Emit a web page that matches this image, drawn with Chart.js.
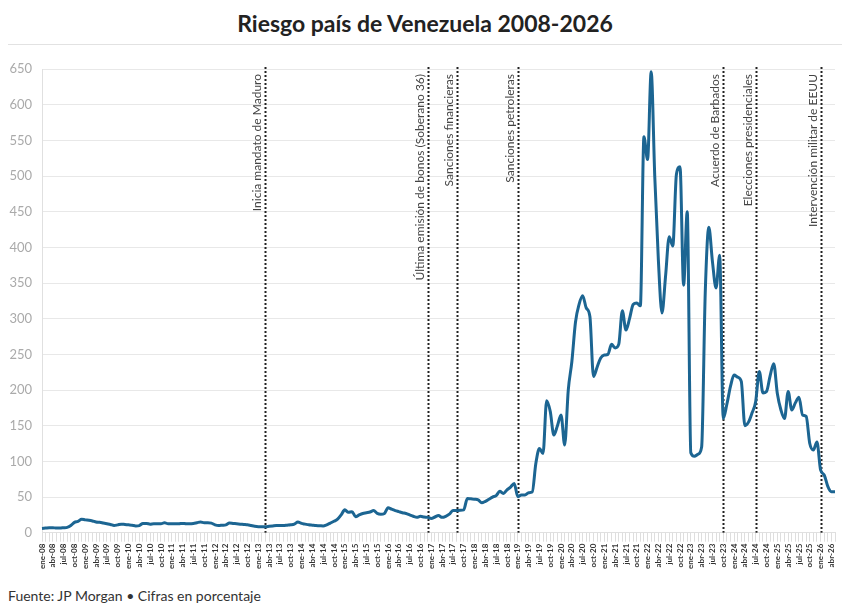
<!DOCTYPE html>
<html><head><meta charset="utf-8">
<script src="https://cdn.jsdelivr.net/npm/chart.js@4.4.1/dist/chart.umd.min.js"></script>
<style>
html,body{margin:0;padding:0;background:#fff;}
#wrap{position:relative;width:850px;height:609px;font-family:Lato, sans-serif;overflow:hidden;}
#title{position:absolute;top:9px;left:0;width:850px;text-align:center;font-weight:700;font-size:23px;color:#222;}
#rule{position:absolute;top:44px;left:8px;width:834px;height:1px;background:#e2e2e2;}
#foot{position:absolute;top:587px;left:8px;font-size:14px;color:#333;}
canvas{position:absolute;left:0;top:50px;}
</style></head>
<body><div id="wrap">
<div id="title">Riesgo país de Venezuela 2008-2026</div>
<div id="rule"></div>
<canvas id="c" width="850" height="530"></canvas>
<div id="foot">Fuente: JP Morgan • Cifras en porcentaje</div>
</div>
<script>
const meses = ['ene','feb','mar','abr','may','jun','jul','ago','sep','oct','nov','dic'];
const anios = ['08','09','10','11','12','13','14','15','16','17','18','19','20','21','22','23','24','25','26'];

// Riesgo país (puntos porcentuales), mensual ene-08 a may-26
const valores = [
  6, 6.5, 7, 7, 6.5, 6.5, 7, 7.5, 10, 14.5, 16, 19,
  18, 17.5, 16.5, 15, 14.5, 13.5, 12.5, 11.5, 10, 11, 12, 11.5,
  11, 10.5, 9.5, 10, 13, 13, 12, 12.5, 12.5, 12.5, 14, 12.5,
  12.5, 12.5, 12.5, 13, 12.5, 12.5, 13, 14, 15, 14, 14, 13.5,
  11, 10, 10.5, 11, 13.5, 13, 12.5, 12, 11.5, 11, 10, 9,
  8.5, 8.5, 8.5, 9, 9.5, 10, 10, 10, 10.5, 11, 12, 15,
  13, 12, 11, 10.5, 10, 9.8, 9.4, 11, 13.5, 16, 19, 25,
  32, 28.5, 29.5, 22.5, 25, 27, 28, 29, 31, 27, 26, 27,
  35, 33, 31, 29.5, 28, 27, 25, 23, 21.5, 23, 22, 21.5,
  20, 22, 24, 21.5, 23, 26, 31, 31, 31.5, 32, 48, 47.5,
  47, 46, 42, 44, 47, 50, 52, 58, 55, 60, 64, 69,
  50.5, 53, 53, 56, 57, 97, 118, 111, 185, 170, 137, 150,
  165, 123, 200, 240, 295, 320, 332, 315, 303, 219, 232, 245,
  249, 250, 264, 259, 264, 311, 284, 300, 320, 322, 318, 555,
  523, 646, 499, 382, 308, 360, 415, 402, 502, 513, 347, 450,
  112, 107, 110, 120, 336, 428, 380, 343, 389, 160, 180, 205,
  221, 218, 212, 150, 155, 168, 184, 226, 196, 198, 220, 237,
  195, 172, 160, 198, 172, 182, 190, 165, 163, 125, 116, 127,
  88, 81, 65, 57.5, 57.5
];

const categorias = [];
anios.forEach(a => meses.forEach(m => categorias.push(m + '-' + a)));
categorias.length = valores.length;

const eventos = ['Inicia mandato de Maduro', 'Última emisión de bonos (Soberano 36)', 'Sanciones financieras', 'Sanciones petroleras', 'Acuerdo de Barbados', 'Elecciones presidenciales', 'Intervención militar de EEUU'];
const fechasEventos = ['mar-13', 'dic-16', 'ago-17', 'ene-19', 'oct-23', 'jul-24', 'ene-26'];

const yTicks = [0, 50, 100, 150, 200, 250, 300, 350, 400, 450, 500, 550, 600, 650];

const eventPlugin = {
  id: 'eventos',
  beforeDatasetsDraw(chart) {
    const {ctx, chartArea, scales: {x}} = chart;
    ctx.save();
    fechasEventos.forEach((f, k) => {
      const px = Math.round(x.getPixelForValue(categorias.indexOf(f))) + 0.5;
      ctx.strokeStyle = '#222';
      ctx.lineWidth = 2;
      ctx.setLineDash([2, 2]);
      ctx.beginPath();
      ctx.moveTo(px, chartArea.top - 2);
      ctx.lineTo(px, chartArea.bottom);
      ctx.stroke();
      ctx.save();
      ctx.translate(px - 5, chartArea.top + 5);
      ctx.rotate(-Math.PI / 2);
      ctx.font = '12px Lato';
      ctx.fillStyle = '#444';
      ctx.textAlign = 'right';
      ctx.textBaseline = 'alphabetic';
      ctx.fillText(eventos[k], 0, 0);
      ctx.restore();
    });
    ctx.restore();
  }
};

new Chart(document.getElementById('c'), {
  type: 'line',
  data: {
    labels: categorias,
    datasets: [{
      data: valores,
      borderColor: '#1c6592',
      borderWidth: 3,
      pointRadius: 0,
      cubicInterpolationMode: 'monotone',
      fill: false
    }]
  },
  options: {
    responsive: false,
    animation: false,
    layout: {padding: {top: 19, right: 15, left: 0, bottom: 0}},
    plugins: {legend: {display: false}, tooltip: {enabled: false}},
    scales: {
      x: {
        grid: {drawOnChartArea: false, tickLength: 9, color: '#dedede'},
        border: {color: '#e0e0e0'},
        ticks: {
          autoSkip: false, maxRotation: 90, minRotation: 90, padding: 2,
          font: {family: 'Lato', size: 8, weight: 'bold'}, color: '#333',
          callback: (v, i) => (i % 3 === 0 ? categorias[i] : '')
        },
        afterFit(s) { s.height = 47.3; }
      },
      y: {
        min: 0, max: 650,
        afterBuildTicks(s) { s.ticks = yTicks.map(v => ({value: v})); },
        ticks: {padding: 10, font: {family: 'Lato', size: 13}, color: '#aaa'},
        grid: {color: '#e8e8e8', drawTicks: false},
        border: {color: '#e0e0e0'},
        afterFit(s) { s.width = 42; }
      }
    }
  },
  plugins: [eventPlugin]
});
</script>
</body></html>
